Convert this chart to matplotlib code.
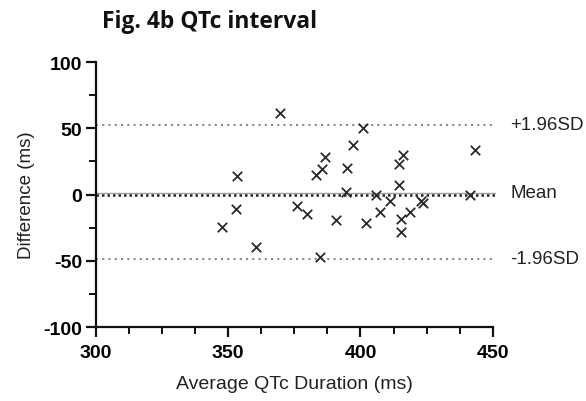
import numpy as np
import matplotlib
matplotlib.use('Agg')
import matplotlib.pyplot as plt
from matplotlib.ticker import MultipleLocator

# Bland-Altman data
avg_qtc = [347.8, 353.1, 353.5, 360.4, 369.5, 376.0, 379.8, 383.1, 385.6, 386.6,
           384.6, 390.7, 394.4, 395.0, 397.1, 400.9, 402.0, 405.8, 407.3, 411.2,
           414.5, 414.5, 416.0, 415.5, 415.5, 418.9, 423.0, 423.8, 441.3, 443.2]
diff_qtc = [-24.5, -11.2, 13.8, -39.5, 61.8, -9.0, -14.5, 15.0, 19.5, 28.0,
            -47.0, -19.5, 1.8, 20.0, 37.5, 50.0, -21.5, 0.0, -13.0, -5.0,
            7.0, 23.0, 30.0, -18.5, -28.2, -13.5, -5.0, -6.0, 0.0, 33.5]
mean_diff = 1.3
upper_loa = 52.8
lower_loa = -48.5

plt.rcParams['font.family'] = ['Liberation Sans', 'DejaVu Sans']
plt.rcParams['axes.unicode_minus'] = False

fig = plt.figure(figsize=(5.86, 4.02), dpi=100)
ax = fig.add_axes([0.1638, 0.184, 0.677, 0.659])

ax.axhline(upper_loa, color='#8a8a8a', lw=1.5, ls=(0, (1, 2)), xmax=1.005, clip_on=False)
ax.axhline(lower_loa, color='#8a8a8a', lw=1.5, ls=(0, (1, 2)), xmax=1.005, clip_on=False)
ax.axhline(mean_diff, color='#a0a0a0', lw=1.0, xmax=1.005, clip_on=False)
ax.axhline(0, color='#222222', lw=1.8, ls=(0, (1, 1.2)), xmax=1.005, clip_on=False)

ax.scatter(avg_qtc, diff_qtc, marker='x', s=46, c='#2a2a2a', linewidths=1.3, zorder=3)

ax.set_xlim(300, 450)
ax.set_ylim(-100, 100)
ax.xaxis.set_major_locator(MultipleLocator(50))
ax.xaxis.set_minor_locator(MultipleLocator(12.5))
ax.yaxis.set_major_locator(MultipleLocator(50))
ax.yaxis.set_minor_locator(MultipleLocator(25))

for s in ['top', 'right']:
    ax.spines[s].set_visible(False)
for s in ['left', 'bottom']:
    ax.spines[s].set_linewidth(1.6)
    ax.spines[s].set_color('#111111')

ax.tick_params(which='major', length=7, width=1.6, color='#111111', labelsize=14, pad=3)
ax.tick_params(which='minor', length=5, width=1.4, color='#111111')
ax.tick_params(axis='x', which='major', pad=5)
for lab in ax.get_xticklabels() + ax.get_yticklabels():
    lab.set_fontweight('bold')

ax.set_xlabel('Average QTc Duration (ms)', fontsize=14, labelpad=10, color='#222222')
ax.set_ylabel('Difference (ms)', fontsize=13.5, labelpad=6, color='#222222')

ytr = ax.get_yaxis_transform()
ax.text(1.045, upper_loa, '+1.96SD', transform=ytr, va='center', ha='left',
        fontsize=13.5, color='#222222')
ax.text(1.045, mean_diff, 'Mean', transform=ytr, va='center', ha='left',
        fontsize=13.5, color='#222222')
ax.text(1.045, lower_loa, '-1.96SD', transform=ytr, va='center', ha='left',
        fontsize=13.5, color='#222222')

fig.text(0.174, 0.930, 'Fig. 4b QTc interval', fontsize=16.5, fontweight='bold',
         family=['Open Sans', 'DejaVu Sans'], color='#111111', va='baseline')

fig.savefig('out.png', dpi=100, facecolor='white')
